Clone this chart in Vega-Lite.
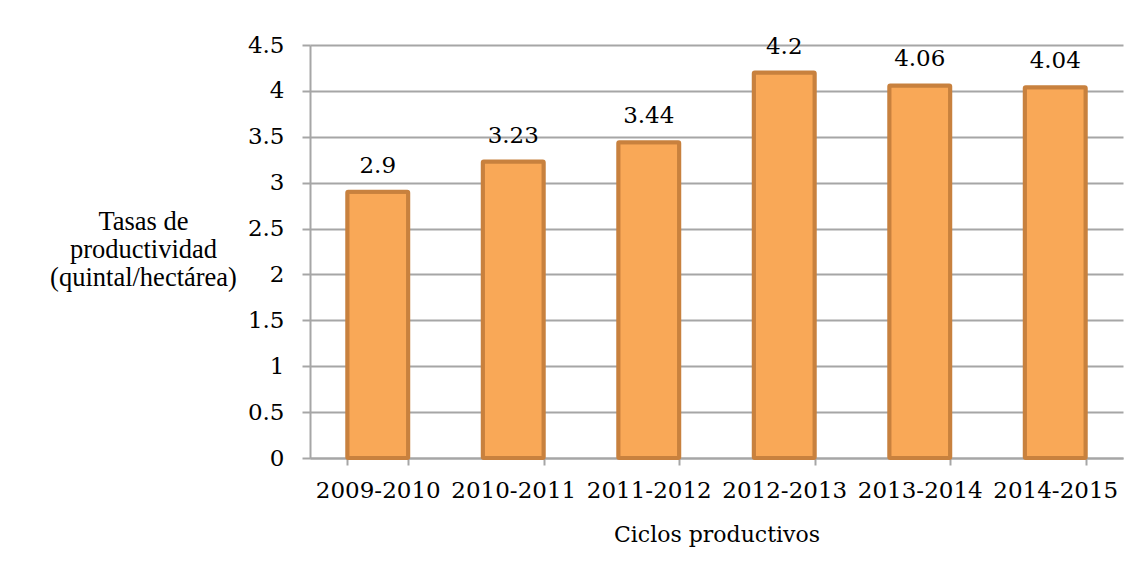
{
  "$schema": "https://vega.github.io/schema/vega-lite/v6.json",
  "width": 813,
  "height": 413,
  "autosize": {"type": "none"},
  "padding": {"left": 310, "top": 45, "right": 24, "bottom": 122},
  "background": "white",
  "data": {
    "values": [
      {"ciclo": "2009-2010", "valor": 2.9},
      {"ciclo": "2010-2011", "valor": 3.23},
      {"ciclo": "2011-2012", "valor": 3.44},
      {"ciclo": "2012-2013", "valor": 4.2},
      {"ciclo": "2013-2014", "valor": 4.06},
      {"ciclo": "2014-2015", "valor": 4.04}
    ]
  },
  "config": {
    "view": {"stroke": null},
    "axis": {
      "labelFont": "DejaVu Serif",
      "labelFontSize": 23,
      "labelColor": "#000000",
      "titleColor": "#000000",
      "domainColor": "#A6A6A6",
      "domainWidth": 2,
      "tickColor": "#A6A6A6",
      "tickWidth": 2,
      "gridColor": "#A6A6A6",
      "gridWidth": 2
    }
  },
  "encoding": {
    "x": {
      "field": "ciclo",
      "type": "nominal",
      "sort": null,
      "scale": {"paddingInner": 0.55, "paddingOuter": 0.275},
      "axis": {
        "labelAngle": 0,
        "tickBand": "extent",
        "tickSize": 7,
        "labelPadding": 14,
        "title": "Ciclos productivos",
        "titleFont": "DejaVu Serif",
        "titleFontSize": 22,
        "titleFontWeight": "normal",
        "titlePadding": 22,
        "grid": false
      }
    },
    "y": {
      "field": "valor",
      "type": "quantitative",
      "scale": {"domain": [0, 4.5], "nice": false},
      "axis": {
        "values": [0, 0.5, 1, 1.5, 2, 2.5, 3, 3.5, 4, 4.5],
        "labelExpr": "datum.value",
        "tickSize": 8,
        "labelPadding": 18,
        "grid": true,
        "title": ["Tasas de", "productividad", "(quintal/hectárea)"],
        "titleFont": "Liberation Serif",
        "titleFontSize": 26.5,
        "titleFontWeight": "normal",
        "titleAngle": 0,
        "titleAlign": "center",
        "titleBaseline": "middle",
        "titleLineHeight": 28,
        "titleX": -167,
        "titleY": 176
      }
    }
  },
  "layer": [
    {
      "mark": {"type": "bar", "fill": "#F9A857", "stroke": "#C8813E", "strokeWidth": 4, "cornerRadius": 1}
    },
    {
      "mark": {"type": "text", "font": "DejaVu Serif", "fontSize": 23, "baseline": "alphabetic", "dy": -19, "color": "#000000"},
      "encoding": {"text": {"field": "valor", "type": "quantitative"}}
    }
  ]
}
